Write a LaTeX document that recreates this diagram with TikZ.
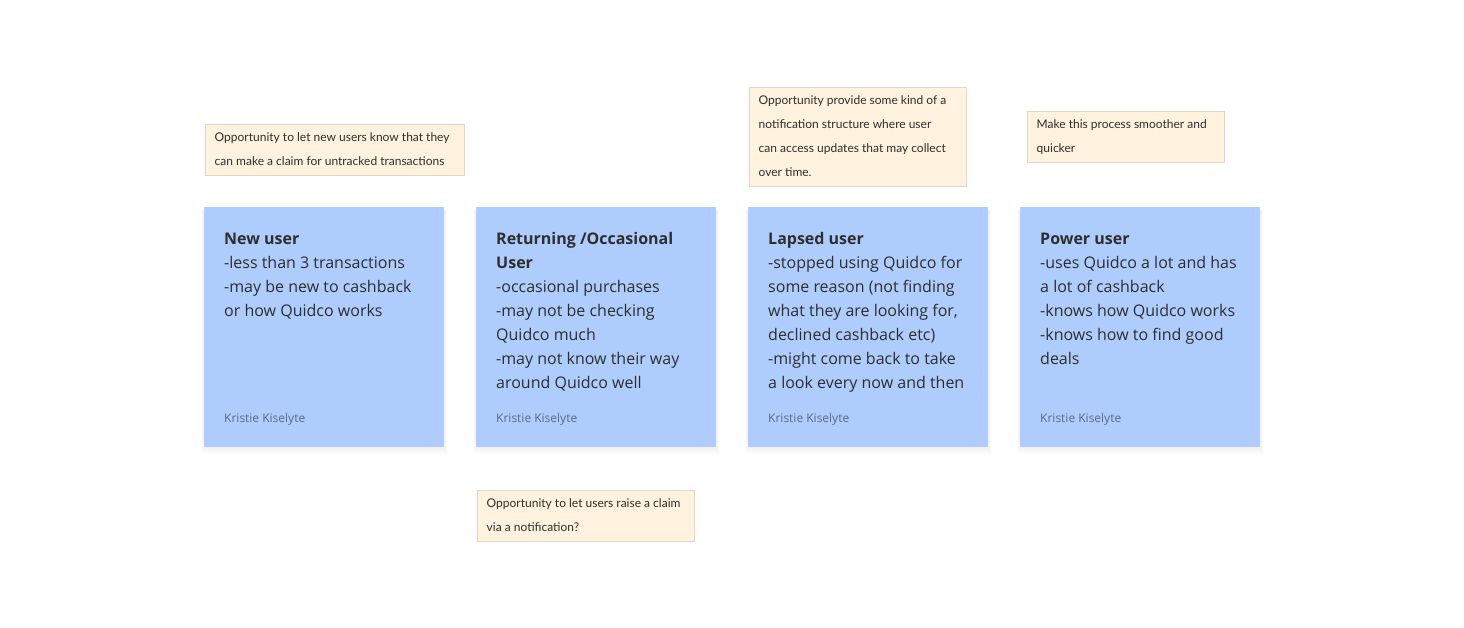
\documentclass[tikz,border=0pt]{standalone}
\usepackage{fontspec}
\setmainfont{Open Sans}
\newfontfamily\notefont{Lato}
\usepackage{tikz}
\usetikzlibrary{positioning}
\definecolor{cardblue}{HTML}{AECDFD}
\definecolor{notefill}{HTML}{FFF3DF}
\definecolor{noteedge}{HTML}{E3D6C2}
\definecolor{ink}{HTML}{2E2E2E}
\definecolor{authorgray}{HTML}{5C6B85}

\begin{document}
\begin{tikzpicture}[x=1pt,y=-1pt,
    card/.style={fill=cardblue, anchor=north west, inner sep=0pt,
        minimum width=240pt, minimum height=240pt},
    cardtext/.style={anchor=north west, inner sep=0pt, align=left, text=ink,
        font=\fontsize{16}{24}\selectfont},
    author/.style={anchor=base west, inner sep=0pt, text=authorgray,
        font=\fontsize{12}{14}\selectfont},
    note/.style={draw=noteedge, fill=notefill, anchor=north west, inner sep=0pt},
    notetext/.style={anchor=north west, inner xsep=10pt, inner ysep=1pt,
        align=left, text=ink, font=\notefont\fontsize{12}{24}\selectfont}]
    \useasboundingbox[fill=white] (0,0) rectangle (1464,627);

    % soft shadows behind the cards
    \foreach \x in {204,476,748,1020}
        \foreach \s in {1,...,7}
            \fill[black, opacity=0.009] (\x-\s/2,210) rectangle (\x+240+\s/2,447+\s);

    % New user
    \node[card] (newcard) at (204,207) {};
    \node[cardtext] (newtext) at (224,227)
        {\strut\textbf{New user}\\-less than 3 transactions\\-may be new to cashback\\or how Quidco works};
    \node[author] (newauthor) at (224,422) {Kristie Kiselyte};

    % Returning / occasional user
    \node[card] (retcard) at (476,207) {};
    \node[cardtext] (rettext) at (496,227)
        {\strut\textbf{Returning /Occasional}\\\textbf{User}\\-occasional purchases\\-may not be checking\\Quidco much\\-may not know their way\\around Quidco well};
    \node[author] (retauthor) at (496,422) {Kristie Kiselyte};

    % Lapsed user
    \node[card] (lapcard) at (748,207) {};
    \node[cardtext] (laptext) at (768,227)
        {\strut\textbf{Lapsed user}\\-stopped using Quidco for\\some reason (not finding\\what they are looking for,\\declined cashback etc)\\-might come back to take\\a look every now and then};
    \node[author] (lapauthor) at (768,422) {Kristie Kiselyte};

    % Power user
    \node[card] (powcard) at (1020,207) {};
    \node[cardtext] (powtext) at (1040,227)
        {\strut\textbf{Power user}\\-uses Quidco a lot and has\\a lot of cashback\\-knows how Quidco works\\-knows how to find good\\deals};
    \node[author] (powauthor) at (1040,422) {Kristie Kiselyte};

    % Notes
    \node[note, minimum width=259pt, minimum height=51pt] (newnote) at (204.5,123.5) {};
    \node[notetext] (newnotetext) at (newnote.north west)
        {\strut Opportunity to let new users know that they\\can make a claim for untracked transactions};
    \node[note, minimum width=217pt, minimum height=99pt] (lapnote) at (748.5,86.5) {};
    \node[notetext] (lapnotetext) at (lapnote.north west)
        {\strut Opportunity provide some kind of a\\notification structure where user\\can access updates that may collect\\over time.};
    \node[note, minimum width=197pt, minimum height=51pt] (pownote) at (1026.5,110.5) {};
    \node[notetext] (pownotetext) at (pownote.north west)
        {\strut Make this process smoother and\\quicker};
    \node[note, minimum width=217pt, minimum height=51pt] (retnote) at (476.5,489.5) {};
    \node[notetext] (retnotetext) at (retnote.north west)
        {\strut Opportunity to let users raise a claim\\via a notification?};
\end{tikzpicture}
\end{document}
